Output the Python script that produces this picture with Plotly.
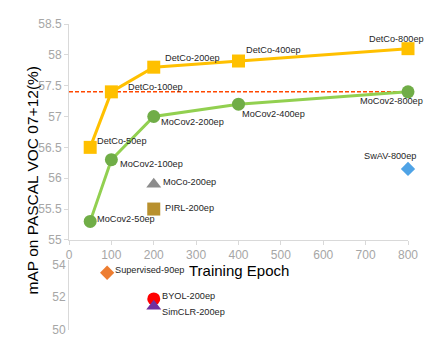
import plotly.graph_objects as go

# ---- data ----
epochs = [50, 100, 200, 400, 800]
detco = [56.5, 57.4, 57.8, 57.9, 58.1]
detco_labels = ["DetCo-50ep", "DetCo-100ep", "DetCo-200ep", "DetCo-400ep", "DetCo-800ep"]
mocov2 = [55.3, 56.3, 57.0, 57.2, 57.4]
mocov2_labels = ["MoCov2-50ep", "MoCov2-100ep", "MoCov2-200ep", "MoCov2-400ep", "MoCov2-800ep"]
ref_line = 57.4

top_names = ["MoCo-200ep", "PIRL-200ep", "SwAV-800ep"]
top_x = [200, 200, 800]
top_y = [55.9, 55.5, 56.15]

bot_names = ["Supervised-90ep", "BYOL-200ep", "SimCLR-200ep"]
bot_x = [90, 200, 200]
bot_y = [53.5, 51.9, 51.45]

x_ticks = [0, 100, 200, 300, 400, 500, 600, 700, 800]
top_yticks = [55, 55.5, 56, 56.5, 57, 57.5, 58, 58.5]
bot_yticks = [50, 52, 54]

# ---- styles ----
GOLD = "#FFC000"
GREEN_M = "#70AD47"
GREEN_L = "#92D050"
TICK = "#A6A6A6"
AX = "#D9D9D9"
LBL = dict(family="Liberation Sans, Arial", size=9.2, color="#262626")

top_sym = ["triangle-up", "square", "diamond"]
top_col = ["#8C8C8C", "#B8902E", "#4FA3E6"]
top_size = [13, 13, 11]
bot_sym = ["diamond", "circle", "triangle-up"]
bot_col = ["#ED7D31", "#FF0000", "#7030A0"]
bot_size = [11, 13, 13]

fig = go.Figure()

# reference dashed line
fig.add_trace(go.Scatter(x=[0, 800], y=[ref_line, ref_line], mode="lines",
                         line=dict(color="#FF4800", width=1.5, dash="4px,2px"),
                         xaxis="x", yaxis="y", showlegend=False, hoverinfo="skip"))
# MoCov2
fig.add_trace(go.Scatter(x=epochs, y=mocov2, mode="lines+markers",
                         line=dict(color=GREEN_L, width=3),
                         marker=dict(color=GREEN_M, size=13, symbol="circle"),
                         xaxis="x", yaxis="y", showlegend=False, cliponaxis=False))
# DetCo
fig.add_trace(go.Scatter(x=epochs, y=detco, mode="lines+markers",
                         line=dict(color=GOLD, width=3),
                         marker=dict(color=GOLD, size=13, symbol="square"),
                         xaxis="x", yaxis="y", showlegend=False, cliponaxis=False))
# other methods (top)
for i in range(len(top_names)):
    fig.add_trace(go.Scatter(x=[top_x[i]], y=[top_y[i]], mode="markers",
                             marker=dict(color=top_col[i], size=top_size[i], symbol=top_sym[i]),
                             xaxis="x", yaxis="y", showlegend=False, cliponaxis=False))
# other methods (bottom)
for i in range(len(bot_names)):
    fig.add_trace(go.Scatter(x=[bot_x[i]], y=[bot_y[i]], mode="markers",
                             marker=dict(color=bot_col[i], size=bot_size[i], symbol=bot_sym[i]),
                             xaxis="x2", yaxis="y2", showlegend=False, cliponaxis=False))

ann = []
det_off = [(5, 6), (15, 5), (9, 9), (5, 11), (-41, 10)]
for i in range(5):
    ann.append(dict(x=epochs[i], y=detco[i], xref="x", yref="y", text=detco_labels[i],
                    showarrow=False, xanchor="left", yanchor="middle",
                    xshift=det_off[i][0], yshift=det_off[i][1], font=LBL))
mo_off = [(5, 2), (7, -4), (5, -5), (1, -10), (-50, -9)]
for i in range(5):
    ann.append(dict(x=epochs[i], y=mocov2[i], xref="x", yref="y", text=mocov2_labels[i],
                    showarrow=False, xanchor="left", yanchor="middle",
                    xshift=mo_off[i][0], yshift=mo_off[i][1], font=LBL))
top_off = [(7, 2), (9, 1), (-46, 13)]
for i in range(3):
    ann.append(dict(x=top_x[i], y=top_y[i], xref="x", yref="y", text=top_names[i],
                    showarrow=False, xanchor="left", yanchor="middle",
                    xshift=top_off[i][0], yshift=top_off[i][1], font=LBL))
bot_off = [(6, 3), (6, 3), (6, -6)]
for i in range(3):
    ann.append(dict(x=bot_x[i], y=bot_y[i], xref="x2", yref="y2", text=bot_names[i],
                    showarrow=False, xanchor="left", yanchor="middle",
                    xshift=bot_off[i][0], yshift=bot_off[i][1], font=LBL))
# axis titles
ann.append(dict(x=-0.108, y=0.49, xref="paper", yref="paper", text="mAP on PASCAL VOC 07+12(%)",
                textangle=-90, showarrow=False, xanchor="center", yanchor="middle",
                font=dict(family="Liberation Sans, Arial", size=15.5, color="#000000")))
ann.append(dict(x=0.5, y=0.193, xref="paper", yref="paper", text="Training Epoch",
                showarrow=False, xanchor="center", yanchor="middle",
                font=dict(family="Liberation Sans, Arial", size=15, color="#000000")))

fig.update_layout(
    width=431, height=349,
    margin=dict(l=69, r=23, t=24, b=16),
    paper_bgcolor="white", plot_bgcolor="white",
    font=dict(family="Liberation Sans, Arial"),
    annotations=ann,
    xaxis=dict(domain=[0, 1], anchor="y", range=[0, 800], tickvals=x_ticks,
               showgrid=False, zeroline=False, showline=True, linecolor=AX, linewidth=1,
               ticks="outside", ticklen=4, tickcolor=AX,
               tickfont=dict(size=12, color=TICK)),
    yaxis=dict(domain=[0.2945, 1], anchor="x", range=[55, 58.5], tickvals=top_yticks,
               ticktext=[("%g" % v) for v in top_yticks],
               showgrid=False, zeroline=False, showline=True, linecolor=AX, linewidth=1,
               ticks="outside", ticklen=4, tickcolor=AX,
               tickfont=dict(size=12, color=TICK)),
    xaxis2=dict(domain=[0, 1], anchor="y2", range=[0, 800], showticklabels=False,
                showgrid=False, zeroline=False, showline=False, ticks=""),
    yaxis2=dict(domain=[0, 0.2298], anchor="x2", range=[50, 54.3], tickvals=bot_yticks,
                showgrid=False, zeroline=False, showline=True, linecolor=AX, linewidth=1,
                ticks="", ticklen=4, tickcolor=AX,
                tickfont=dict(size=12, color=TICK)),
)

fig.write_html("out.html")
